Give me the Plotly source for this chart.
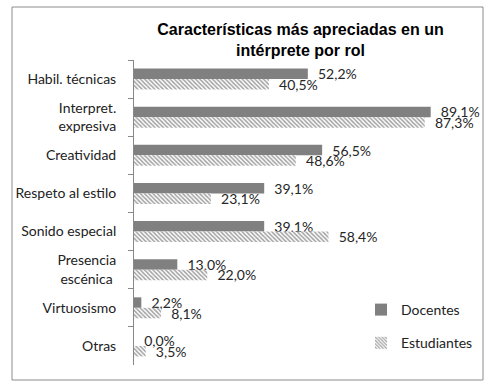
import plotly.graph_objects as go

categories = ["Habil. técnicas", "Interpret.<br>expresiva", "Creatividad", "Respeto al estilo",
              "Sonido especial", "Presencia<br>escénica ", "Virtuosismo", "Otras"]
docentes = [52.2, 89.1, 56.5, 39.1, 39.1, 13.0, 2.2, 0.0]
estudiantes = [40.5, 87.3, 48.6, 23.1, 58.4, 22.0, 8.1, 3.5]
series_names = ["Docentes", "Estudiantes"]
title_text = "Características más apreciadas en un<br>intérprete por rol"

FONT = "Lato"
W, H = 497, 386
ML, MR, MT, MB = 134, 30, 60, 21
PW, PH = W - ML - MR, H - MT - MB
LABEL = "\u00a0\u00a0%{x:.1f}%"

fig = go.Figure()
fig.add_trace(go.Bar(
    y=categories, x=docentes, name=series_names[0], orientation="h",
    marker=dict(color="#808080", line=dict(width=0)),
    texttemplate=LABEL, textposition="outside", cliponaxis=False,
    textfont=dict(family=FONT, size=14, color="#262626"),
    constraintext="none", legendgroup="a",
))
fig.add_trace(go.Bar(
    y=categories, x=estudiantes, name=series_names[1], orientation="h",
    marker=dict(color="white", line=dict(width=0),
                pattern=dict(shape="\\", fgcolor="#444444", bgcolor="white", size=3, solidity=0.5)),
    texttemplate=LABEL, textposition="outside", cliponaxis=False,
    textfont=dict(family=FONT, size=14, color="#262626"),
    constraintext="none", legendgroup="b",
))

def px_x(p):
    return (p - ML) / PW

def px_y(p):
    return (H - MB - p) / PH

fig.update_layout(
    width=W, height=H,
    margin=dict(l=ML, r=MR, t=MT, b=MB, autoexpand=False),
    paper_bgcolor="white", plot_bgcolor="white",
    separators=",.",
    barmode="group", bargap=0.45, bargroupgap=0,
    title=dict(text=f"<b>{title_text}</b>", x=0.5, xref="paper", xanchor="center",
               y=1 - 35 / H, yanchor="middle",
               font=dict(family="Liberation Sans", size=16, color="#000000")),
    xaxis=dict(range=[0, 100], visible=False, showgrid=False, zeroline=False),
    yaxis=dict(autorange="reversed", showline=True, linecolor="#888888", linewidth=1,
               ticks="outside", tickson="boundaries", ticklen=5, tickcolor="#888888",
               showgrid=False, zeroline=False, automargin=False, ticklabelstandoff=14,
               tickfont=dict(family=FONT, size=14, color="#222222")),
    legend=dict(x=px_x(361), y=px_y(294), xanchor="left", yanchor="top",
                font=dict(family=FONT, size=14, color="#222222"),
                tracegroupgap=12, bgcolor="rgba(0,0,0,0)", itemwidth=30),
    showlegend=True,
    shapes=[dict(type="rect", xref="paper", yref="paper",
                 x0=px_x(12), x1=px_x(483), y0=px_y(380), y1=px_y(7),
                 line=dict(color="#8c8c8c", width=1), layer="below")],
)

fig.write_html("out.html", config={"displayModeBar": False},
               post_script="document.body.style.margin='0';document.body.style.overflow='hidden';")
